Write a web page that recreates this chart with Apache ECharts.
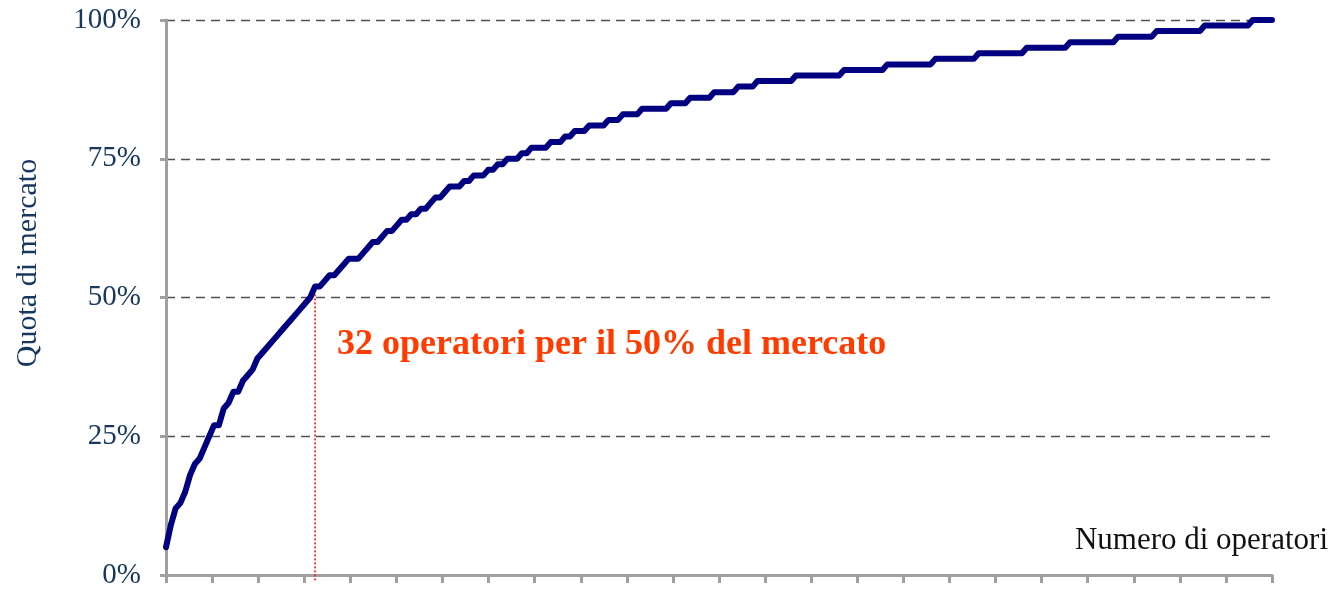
<!DOCTYPE html>
<html>
<head>
<meta charset="utf-8">
<script src="https://cdn.jsdelivr.net/npm/echarts@6/dist/echarts.min.js"></script>
<style>
html,body{margin:0;padding:0;background:#fff;}
#chart{width:1334px;height:590px;}
</style>
</head>
<body>
<div id="chart"></div>
<script>
// Cumulative market share (%) of operators ranked by size (operator 1..231)
const shareValues = [
  5, 9,12,13,15,18,20,21,23,25,
 27,27,30,31,33,33,35,36,37,39,
 40,41,42,43,44,45,46,47,48,49,
 50,52,52,53,54,54,55,56,57,57,
 57,58,59,60,60,61,62,62,63,64,
 64,65,65,66,66,67,68,68,69,70,
 70,70,71,71,72,72,72,73,73,74,
 74,75,75,75,76,76,77,77,77,77,
 78,78,78,79,79,80,80,80,81,81,
 81,81,82,82,82,83,83,83,83,84,
 84,84,84,84,84,85,85,85,85,86,
 86,86,86,86,87,87,87,87,87,88,
 88,88,88,89,89,89,89,89,89,89,
 89,90,90,90,90,90,90,90,90,90,
 90,91,91,91,91,91,91,91,91,91,
 92,92,92,92,92,92,92,92,92,92,
 93,93,93,93,93,93,93,93,93,94,
 94,94,94,94,94,94,94,94,94,95,
 95,95,95,95,95,95,95,95,96,96,
 96,96,96,96,96,96,96,96,97,97,
 97,97,97,97,97,97,98,98,98,98,
 98,98,98,98,98,98,99,99,99,99,
 99,99,99,99,99,99,100,100,100,100,100
];
const yTicks = [0, 25, 50, 75, 100];
const xTickCount = 24;
const thresholdOperator = 32;
const thresholdShare = 52;
const annotationText = '32 operatori per il 50% del mercato';
const yAxisTitle = 'Quota di mercato';
const xAxisTitle = 'Numero di operatori';

const lineData = shareValues.map((v, k) => [k, v]);
const xMax = shareValues.length - 1;

const chart = echarts.init(document.getElementById('chart'), null, {renderer: 'canvas'});
const serif = '"Liberation Serif", "DejaVu Serif", serif';
const gray = '#A0A0A0';

chart.setOption({
  animation: false,
  backgroundColor: '#ffffff',
  grid: {left: 166, right: 62, top: 20, bottom: 15, containLabel: false},
  xAxis: {
    type: 'value',
    min: 0,
    max: xMax,
    interval: xMax / xTickCount,
    axisLine: {show: true, onZero: false, lineStyle: {color: gray, width: 3}},
    axisTick: {show: true, length: 8, lineStyle: {color: gray, width: 3}},
    axisLabel: {show: false},
    splitLine: {show: false}
  },
  yAxis: {
    type: 'value',
    min: yTicks[0],
    max: yTicks[yTicks.length - 1],
    interval: yTicks[1] - yTicks[0],
    axisLine: {show: true, lineStyle: {color: gray, width: 3}},
    axisTick: {show: true, length: 6, lineStyle: {color: gray, width: 3}},
    axisLabel: {
      formatter: '{value}%',
      color: '#17375E',
      fontFamily: serif,
      fontSize: 29,
      margin: 25
    },
    splitLine: {show: true, lineStyle: {color: '#505050', width: 1.3, type: [9, 6]}}
  },
  series: [{
    type: 'line',
    data: lineData,
    showSymbol: false,
    symbol: 'none',
    clip: false,
    lineStyle: {color: '#000080', width: 6, cap: 'round', join: 'round'},
    z: 5
  }],
  graphic: [
    {
      id: 'yTitle',
      type: 'text',
      x: 28, y: 263,
      rotation: Math.PI / 2,
      style: {
        text: yAxisTitle,
        fill: '#17375E',
        font: '30px ' + serif,
        textAlign: 'center',
        textVerticalAlign: 'middle'
      }
    },
    {
      id: 'xTitle',
      type: 'text',
      x: 1328, y: 541,
      style: {
        text: xAxisTitle,
        fill: '#111111',
        font: '31px ' + serif,
        textAlign: 'right',
        textVerticalAlign: 'middle'
      }
    },
    {
      id: 'note',
      type: 'text',
      x: 337, y: 345,
      style: {
        text: annotationText,
        fill: '#FF3B00',
        font: 'bold 36px ' + serif,
        textAlign: 'left',
        textVerticalAlign: 'middle'
      }
    }
  ]
});

// dotted red marker at the threshold operator, from the curve down past the axis
const pTop = chart.convertToPixel({gridIndex: 0}, [thresholdOperator - 1, thresholdShare]);
const pBot = chart.convertToPixel({gridIndex: 0}, [thresholdOperator - 1, 0]);
chart.setOption({
  graphic: [{
    id: 'thresholdLine',
    type: 'line',
    z: 4,
    shape: {x1: pTop[0], y1: pTop[1], x2: pBot[0], y2: pBot[1] + 6},
    style: {stroke: '#FF0000', lineWidth: 1.5, lineDash: [2, 2]}
  }]
});
</script>
</body>
</html>
